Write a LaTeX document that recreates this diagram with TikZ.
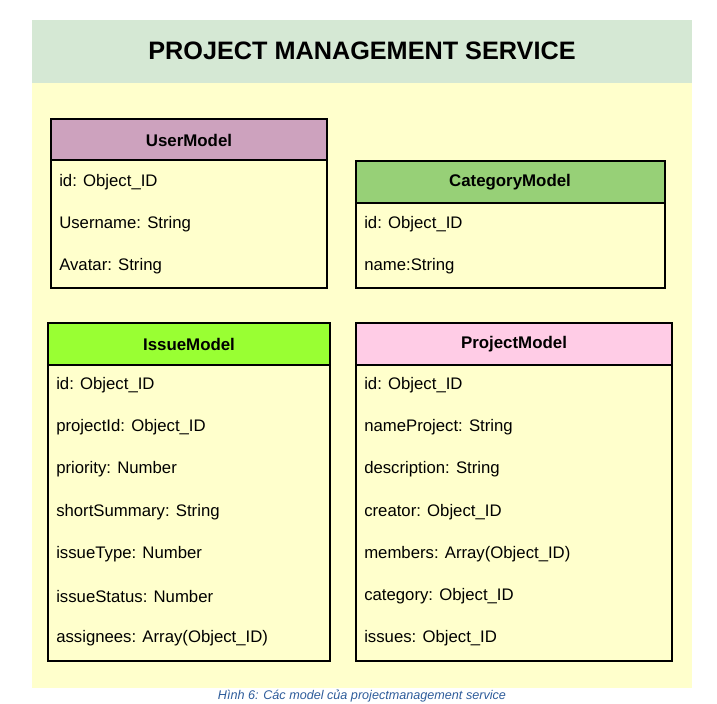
\documentclass[tikz,border=0pt]{standalone}
\usepackage{fontspec}
\setmainfont{Liberation Sans}
\usetikzlibrary{positioning}
\definecolor{bandgreen}{HTML}{D5E8D4}
\definecolor{paper}{HTML}{FFFFCC}
\definecolor{usercol}{HTML}{CDA2BE}
\definecolor{catcol}{HTML}{97D077}
\definecolor{issuecol}{HTML}{99FF33}
\definecolor{projcol}{HTML}{FFCCE6}
\definecolor{capblue}{HTML}{2E5C9A}
\tikzset{
	headbox/.style={draw=black, thick, inner sep=0pt},
	bodybox/.style={draw=black, thick, inner sep=0pt},
	headtext/.style={font=\fontsize{12.7}{14}\selectfont\bfseries, inner sep=0pt},
	field/.style={anchor=west, font=\fontsize{12.6}{14}\selectfont, inner sep=0pt}
}
\begin{document}
\begin{tikzpicture}[x=0.02646cm, y=-0.02646cm]
		\useasboundingbox (0,0) rectangle (717,703);
		\fill[paper] (32,83) rectangle (692,688);
		\fill[bandgreen] (32,20) rectangle (692,83);
		\node[font=\fontsize{19}{22}\selectfont\bfseries] (title) at (362,51) {PROJECT MANAGEMENT SERVICE};
		%
		% UserModel
		\draw[bodybox, fill=paper] (51,160) rectangle (327,288);
		\draw[headbox, fill=usercol] (51,119) rectangle (327,160);
		\node[headtext] (user) at (189,140) {UserModel};
		\foreach \t [count=\i] in {id: Object\_ID, Username: String, Avatar: String}
			\node[field] (user\i) at (59,140+42*\i) {\t};
		%
		% CategoryModel
		\draw[bodybox, fill=paper] (356,203) rectangle (665,288);
		\draw[headbox, fill=catcol] (356,161) rectangle (665,203);
		\node[headtext] (category) at (510,182) {CategoryModel};
		\foreach \t [count=\i] in {id: Object\_ID, name:String}
			\node[field] (category\i) at (364,182+42*\i) {\t};
		%
		% IssueModel
		\draw[bodybox, fill=paper] (48,365) rectangle (330,661);
		\draw[headbox, fill=issuecol] (48,323) rectangle (330,365);
		\node[headtext] (issue) at (189,344) {IssueModel};
		\foreach \t [count=\i] in {id: Object\_ID, projectId: Object\_ID, priority: Number, shortSummary: String, issueType: Number, issueStatus: Number, assignees: Array(Object\_ID)}
			\node[field] (issue\i) at (56,343+42.2*\i) {\t};
		%
		% ProjectModel
		\draw[bodybox, fill=paper] (356,365) rectangle (672,661);
		\draw[headbox, fill=projcol] (356,323) rectangle (672,365);
		\node[headtext] (project) at (514,344) {ProjectModel};
		\foreach \t [count=\i] in {id: Object\_ID, nameProject: String, description: String, creator: Object\_ID, members: Array(Object\_ID), category: Object\_ID, issues: Object\_ID}
			\node[field] (project\i) at (364,343+42.2*\i) {\t};
		%
		\node[font=\fontsize{9.5}{11}\selectfont\itshape, text=capblue] (caption) at (362,696) {Hình 6: Các model của projectmanagement service};
\end{tikzpicture}
\end{document}
